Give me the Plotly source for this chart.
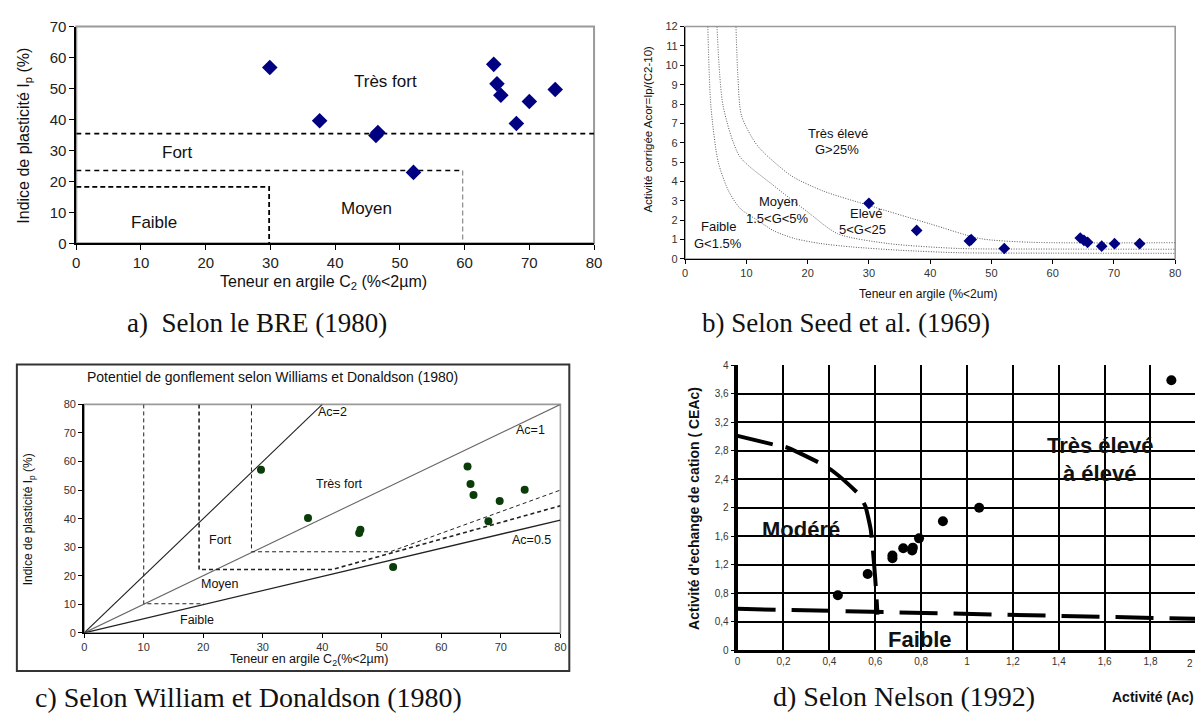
import plotly.graph_objects as go

W, H = 1203, 718
def px(x): return x / W
def py(y): return 1 - y / H

SANS = "Liberation Sans, Arial, sans-serif"
SERIF = "Liberation Serif, Times New Roman, serif"

# ---------------- Panel a : BRE (1980) ----------------
bre_clay = [29.9, 37.6, 46.3, 46.6, 52.1, 64.5, 65.0, 65.6, 68.0, 70.0, 74.0]
bre_ip = [56.8, 39.6, 34.8, 35.8, 22.9, 57.8, 51.5, 47.8, 38.7, 45.8, 49.7]
bre_tresfort_x = [0, 80]
bre_tresfort_y = [35.4, 35.4]
bre_fort_x = [0, 59.7, 59.7]
bre_fort_y = [23.5, 23.5, 0]
bre_moyen_x = [0, 29.8, 29.8]
bre_moyen_y = [18.2, 18.2, 0]
bre_labels = ["Très fort", "Fort", "Moyen", "Faible"]
bre_label_x = [47.8, 15.6, 44.8, 12.0]
bre_label_y = [52.1, 29.4, 11.1, 6.6]

# ---------------- Panel b : Seed et al. (1969) ----------------
seed_clay = [30.0, 37.8, 46.4, 46.7, 52.1, 64.5, 65.1, 65.7, 68.0, 70.1, 74.2]
seed_acor = [2.87, 1.47, 0.93, 1.0, 0.54, 1.08, 0.96, 0.86, 0.66, 0.79, 0.79]
seed_curveA_x = [3.7, 4.2, 5.4, 7.1, 9.0, 11.8, 14.5, 17.9, 22.0, 27.2, 35.0, 44.7, 60.0, 80.0]
seed_curveA_y = [12.0, 7.9, 5.0, 3.5, 2.6, 2.0, 1.45, 1.05, 0.8, 0.62, 0.45, 0.32, 0.3, 0.29]
seed_curveB_x = [5.2, 6.2, 8.9, 14.4, 19.7, 24.9, 33.0, 44.7, 60.0, 80.0]
seed_curveB_y = [12.0, 7.9, 5.3, 3.8, 2.5, 1.3, 0.8, 0.54, 0.51, 0.5]
seed_curveC_x = [8.3, 8.6, 9.2, 11.8, 17.3, 22.6, 29.6, 40.1, 48.2, 56.4, 80.0]
seed_curveC_y = [12.0, 9.5, 7.4, 5.85, 4.3, 3.5, 2.8, 1.8, 1.05, 0.86, 0.84]
seed_labels = ["Très élevé", "G>25%", "Moyen", "1.5<G<5%", "Faible", "G<1.5%", "Elevé", "5<G<25"]
seed_label_x = [24.9, 24.8, 15.3, 15.0, 5.5, 5.4, 29.6, 29.0]
seed_label_y = [6.47, 5.63, 2.98, 2.09, 1.67, 0.79, 2.36, 1.52]

# ---------------- Panel c : Williams & Donaldson (1980) ----------------
wd_clay = [29.7, 37.6, 46.2, 46.4, 51.9, 64.4, 64.9, 65.4, 67.9, 69.8, 74.0]
wd_ip = [57.1, 40.2, 35.0, 36.1, 23.1, 58.3, 52.1, 48.3, 39.1, 46.2, 50.1]
wd_ac2_x = [0, 40]
wd_ac2_y = [0, 80]
wd_ac1_x = [0, 80]
wd_ac1_y = [0, 80]
wd_ac05_x = [0, 80]
wd_ac05_y = [0, 39.5]
wd_faible_x = [10, 10, 20.1]
wd_faible_y = [80, 10.2, 10.2]
wd_moyen_x = [19.3, 19.3, 41.7, 80]
wd_moyen_y = [80, 22.2, 22.2, 44.5]
wd_fort_x = [28.1, 28.1, 51.4, 80]
wd_fort_y = [80, 28.4, 28.4, 50.0]
wd_labels = ["Ac=2", "Ac=1", "Ac=0.5", "Très fort", "Fort", "Moyen", "Faible"]
wd_label_x = [41.7, 75.0, 75.1, 42.9, 22.9, 22.8, 18.9]
wd_label_y = [77.4, 71.1, 32.5, 52.3, 32.6, 17.1, 4.6]

# ---------------- Panel d : Nelson (1992) ----------------
nel_ac = [0.437, 0.567, 0.675, 0.675, 0.722, 0.761, 0.764, 0.791, 0.895, 1.053, 1.891]
nel_ceac = [0.77, 1.07, 1.29, 1.33, 1.43, 1.40, 1.44, 1.57, 1.81, 2.00, 3.79]
nel_mod_x = [0, 0.154, 0.212, 0.363, 0.413, 0.528, 0.557, 0.58, 0.59, 0.60, 0.61]
nel_mod_y = [3.01, 2.89, 2.85, 2.62, 2.52, 2.19, 2.02, 1.70, 1.40, 1.00, 0.50]
nel_faible_x = [0, 2.0]
nel_faible_y = [0.58, 0.44]
nel_xticks = [0, 0.2, 0.4, 0.6, 0.8, 1, 1.2, 1.4, 1.6, 1.8]
nel_xticktext = ["0", "0,2", "0,4", "0,6", "0,8", "1", "1,2", "1,4", "1,6", "1,8"]
nel_yticks = [0, 0.4, 0.8, 1.2, 1.6, 2, 2.4, 2.8, 3.2, 3.6, 4]
nel_yticktext = ["0", "0,4", "0,8", "1,2", "1,6", "2", "2,4", "2,8", "3,2", "3,6", "4"]
nel_labels = ["Très élevé", "à élevé", "Modéré", "Faible"]
nel_label_x = [1.578, 1.578, 0.276, 0.794]
nel_label_y = [2.88, 2.48, 1.69, 0.146]

fig = go.Figure()

# Panel a traces
for xs, ys, col, w, dash in [(bre_tresfort_x, bre_tresfort_y, "black", 1.8, "5px,4px"),
                              (bre_fort_x[:2], bre_fort_y[:2], "black", 1.6, "5px,4px"),
                              (bre_fort_x[1:], bre_fort_y[1:], "#888", 1.2, "5px,3px"),
                              (bre_moyen_x, bre_moyen_y, "black", 1.8, "5px,3px")]:
    fig.add_trace(go.Scatter(x=xs, y=ys, mode="lines", line=dict(color=col, width=w, dash=dash),
                             xaxis="x", yaxis="y", hoverinfo="skip"))
fig.add_trace(go.Scatter(x=bre_clay, y=bre_ip, mode="markers",
                         marker=dict(symbol="diamond", size=12, color="#000080"), xaxis="x", yaxis="y"))

# Panel b traces
for xs, ys in [(seed_curveA_x, seed_curveA_y), (seed_curveB_x, seed_curveB_y), (seed_curveC_x, seed_curveC_y)]:
    fig.add_trace(go.Scatter(x=xs, y=ys, mode="lines",
                             line=dict(color="#555", width=1, dash="1px,1.5px", shape="spline", smoothing=0.7),
                             xaxis="x2", yaxis="y2", hoverinfo="skip"))
fig.add_trace(go.Scatter(x=seed_clay, y=seed_acor, mode="markers",
                         marker=dict(symbol="diamond", size=9, color="#000080"), xaxis="x2", yaxis="y2"))

# Panel c traces
for xs, ys, col, w in [(wd_ac2_x, wd_ac2_y, "#222", 1.1), (wd_ac1_x, wd_ac1_y, "#666", 1.1), (wd_ac05_x, wd_ac05_y, "#222", 1.3)]:
    fig.add_trace(go.Scatter(x=xs, y=ys, mode="lines", line=dict(color=col, width=w),
                             xaxis="x3", yaxis="y3", hoverinfo="skip"))
for xs, ys, w in [(wd_faible_x, wd_faible_y, 1.0), (wd_moyen_x, wd_moyen_y, 1.6), (wd_fort_x, wd_fort_y, 1.0)]:
    fig.add_trace(go.Scatter(x=xs, y=ys, mode="lines", line=dict(color="#222", width=w, dash="4px,3px"),
                             xaxis="x3", yaxis="y3", hoverinfo="skip"))
fig.add_trace(go.Scatter(x=wd_clay, y=wd_ip, mode="markers",
                         marker=dict(symbol="circle", size=8, color="#0b3d0b"), xaxis="x3", yaxis="y3"))

# Panel d traces
fig.add_trace(go.Scatter(x=nel_mod_x, y=nel_mod_y, mode="lines",
                         line=dict(color="black", width=4, dash="36px,13px", shape="spline", smoothing=0.5),
                         xaxis="x4", yaxis="y4", hoverinfo="skip"))
fig.add_trace(go.Scatter(x=nel_faible_x, y=nel_faible_y, mode="lines",
                         line=dict(color="black", width=4, dash="38px,16px"),
                         xaxis="x4", yaxis="y4", hoverinfo="skip"))
fig.add_trace(go.Scatter(x=nel_ac, y=nel_ceac, mode="markers",
                         marker=dict(symbol="circle", size=10, color="black"), xaxis="x4", yaxis="y4"))

common = dict(showgrid=False, zeroline=False, showline=True, linecolor="black", ticks="outside",
              tickcolor="black", fixedrange=True)

fig.update_layout(
    width=W, height=H, margin=dict(l=0, r=0, t=0, b=0), showlegend=False,
    paper_bgcolor="white", plot_bgcolor="white",
    font=dict(family=SANS, color="#222"),
    xaxis=dict(domain=[px(73), px(596)], range=[0, 80], dtick=10, anchor="y", linewidth=1.6, ticklen=5,
               tickfont=dict(size=15, color="#222"), **common),
    yaxis=dict(domain=[py(240), py(18)], range=[0, 70], dtick=10, anchor="x", linewidth=1.6, ticklen=5,
               tickfont=dict(size=15, color="#222"), **common),
    xaxis2=dict(domain=[px(688), px(1183)], range=[0, 80], dtick=10, anchor="y2", linewidth=1.4, ticklen=4,
                tickfont=dict(size=11, color="#333"), **common),
    yaxis2=dict(domain=[py(256), py(18)], range=[0, 12], dtick=1, anchor="x2", linewidth=1.4, ticklen=4,
                tickfont=dict(size=11, color="#333"), **common),
    xaxis3=dict(domain=[px(81), px(562)], range=[0, 80], dtick=10, anchor="y3", linewidth=1.4, ticklen=4,
                tickfont=dict(size=11, color="#333"), **common),
    yaxis3=dict(domain=[py(639), py(405)], range=[0, 80], dtick=10, anchor="x3", linewidth=2, ticklen=4,
                tickfont=dict(size=11, color="#333"), **common),
    xaxis4=dict(domain=[px(741), 1.0], range=[0, 1.994], anchor="y4", tickmode="array",
                tickvals=nel_xticks, ticktext=nel_xticktext, showgrid=True, gridcolor="black", gridwidth=2.2,
                zeroline=False, showline=True, linecolor="black", linewidth=2.5, ticks="", fixedrange=True,
                tickfont=dict(size=10, color="#333")),
    yaxis4=dict(domain=[py(656.7), py(365)], range=[0, 4], anchor="x4", tickmode="array",
                tickvals=nel_yticks, ticktext=nel_yticktext, showgrid=True, gridcolor="black", gridwidth=2.2,
                zeroline=False, showline=True, linecolor="black", linewidth=4, ticks="outside", ticklen=3,
                tickcolor="black", fixedrange=True, tickfont=dict(size=10, color="#333")),
)

shapes = []
# gray plot borders
for xr, yr, w in [("x", "y", 2), ("x2", "y2", 1.6), ("x3", "y3", 1.6)]:
    shapes.append(dict(type="rect", xref=xr + " domain", yref=yr + " domain", x0=0, x1=1, y0=0, y1=1,
                       line=dict(color="#9a9a9a", width=w), layer="below"))
# panel c outer frame
shapes.append(dict(type="rect", xref="paper", yref="paper", x0=px(13), x1=px(571), y0=py(678), y1=py(364),
                   line=dict(color="#333", width=2), layer="below"))
fig.update_layout(shapes=shapes)

ann = []
def A(text, x, y, xref, yref, size, family=SANS, bold=False, angle=0, color="#111", xanchor="center"):
    t = "<b>" + text + "</b>" if bold else text
    ann.append(dict(text=t, x=x, y=y, xref=xref, yref=yref, showarrow=False, textangle=angle,
                    font=dict(size=size, family=family, color=color), xanchor=xanchor, yanchor="middle"))

for t, x, y in zip(bre_labels, bre_label_x, bre_label_y):
    A(t, x, y, "x", "y", 17)
for t, x, y in zip(seed_labels, seed_label_x, seed_label_y):
    A(t, x, y, "x2", "y2", 13)
for t, x, y in zip(wd_labels, wd_label_x, wd_label_y):
    A(t, x, y, "x3", "y3", 12.5)
for t, x, y in zip(nel_labels, nel_label_x, nel_label_y):
    A(t, x, y, "x4", "y4", 22, bold=True)

# axis titles
A("Indice de plasticité I<sub>p</sub> (%)", px(21), py(130), "paper", "paper", 16, angle=-90)
A("Teneur en argile C<sub>2</sub> (%<2µm)", px(323), py(280), "paper", "paper", 16)
A("Activité corrigée Acor=Ip/(C2-10)", px(651), py(123), "paper", "paper", 11.5, angle=-90)
A("Teneur en argile (%<2um)", px(933), py(292), "paper", "paper", 12)
A("Potentiel de gonflement selon Williams et Donaldson (1980)", px(271), py(377), "paper", "paper", 14)
A("Indice de plasticité I<sub>p</sub> (%)", px(25), py(523), "paper", "paper", 12, angle=-90)
A("Teneur en argile C<sub>2</sub>(%<2µm)", px(308), py(667), "paper", "paper", 12.5)
A("Activité d'echange de cation ( CEAc)", px(697), py(512), "paper", "paper", 14, bold=True, angle=-90)
A("Activité (Ac)", px(1161), py(705), "paper", "paper", 14, bold=True)
A("2", 1.0, py(670), "paper", "paper", 10, color="#333", xanchor="right")

# captions
A("a)  Selon le BRE (1980)", px(256), py(322), "paper", "paper", 27, family=SERIF)
A("b) Selon Seed et al. (1969)", px(850), py(322), "paper", "paper", 27, family=SERIF)
A("c) Selon William et Donaldson (1980)", px(247), py(705), "paper", "paper", 28, family=SERIF)
A("d) Selon Nelson (1992)", px(909), py(704), "paper", "paper", 28, family=SERIF)

fig.update_layout(annotations=ann)
fig.write_html("out.html")
